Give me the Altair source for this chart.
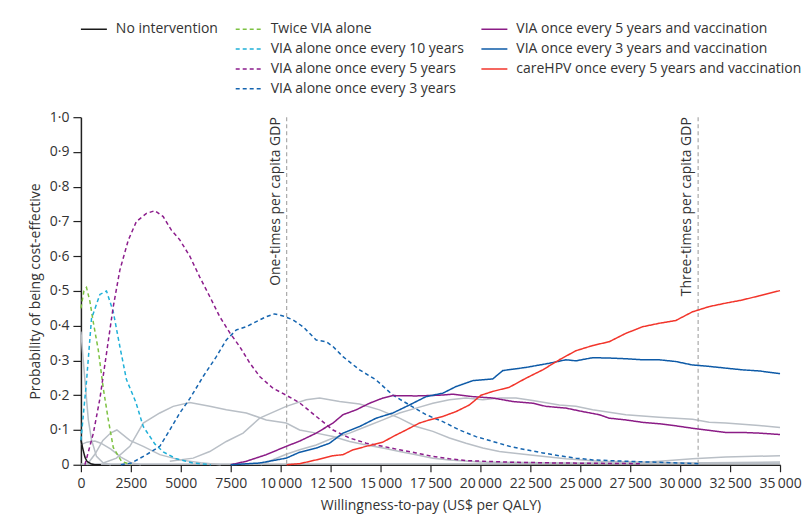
import altair as alt
import pandas as pd

# ---------------- data ----------------
no_int_x = [0, 100, 200, 300, 500, 700, 1000]
no_int_y = [0.072, 0.045, 0.022, 0.010, 0.003, 0.0, 0.0]

twice_x = [0, 150, 280, 450, 620, 870, 1120, 1370, 1620, 2030, 2500]
twice_y = [0.45, 0.50, 0.51, 0.47, 0.41, 0.33, 0.22, 0.13, 0.05, 0.01, 0.0]

v10_x = [0, 280, 530, 950, 1280, 1620, 1950, 2280, 2750, 3120, 3700, 4120, 4780, 5600, 6500]
v10_y = [0.07, 0.24, 0.42, 0.49, 0.50, 0.44, 0.34, 0.245, 0.18, 0.11, 0.06, 0.037, 0.017, 0.005, 0.0]

v5_x = [200, 620, 950, 1280, 1620, 1950, 2370, 2780, 3280, 3700, 4120, 4530, 4950, 5450,
        5950, 6450, 6950, 7450, 7950, 8450, 8950, 9620, 10280, 10950, 11780, 12620, 13450,
        14280, 15120, 15950, 16780, 17620, 18450, 19280, 20120, 21780, 24000, 28000]
v5_y = [0.0, 0.09, 0.19, 0.32, 0.455, 0.56, 0.646, 0.70, 0.723, 0.731, 0.714, 0.675, 0.647, 0.60,
        0.54, 0.484, 0.426, 0.38, 0.34, 0.293, 0.254, 0.22, 0.20, 0.178, 0.139, 0.10, 0.077,
        0.062, 0.053, 0.043, 0.034, 0.024, 0.017, 0.012, 0.01, 0.007, 0.005, 0.003]

v3_x = [2000, 2530, 3280, 3950, 4450, 4950, 5450, 6120, 6780, 7280, 7780, 8280, 8780, 9280,
        9700, 10120, 10620, 11120, 11780, 12280, 12620, 13120, 13950, 14780, 15620, 16450,
        17280, 18120, 18950, 19780, 20620, 21450, 22280, 23120, 23950, 24780, 25620, 27280,
        28950, 31000]
v3_y = [0.0, 0.005, 0.029, 0.053, 0.10, 0.149, 0.19, 0.254, 0.311, 0.359, 0.388, 0.397, 0.412,
        0.426, 0.434, 0.428, 0.417, 0.397, 0.359, 0.354, 0.34, 0.311, 0.273, 0.244, 0.20, 0.172,
        0.144, 0.124, 0.10, 0.081, 0.067, 0.053, 0.043, 0.034, 0.026, 0.019, 0.014, 0.01,
        0.007, 0.003]

vac5_x = [7500, 8280, 9280, 10280, 10950, 11780, 12620, 13120, 13780, 14450, 15120, 15620,
          16780, 17950, 18620, 19620, 20620, 21620, 22620, 23280, 24280, 25120, 25950, 26450,
          27280, 28120, 28950, 29780, 30620, 31450, 32280, 33120, 33950, 35000]
vac5_y = [0.0, 0.01, 0.029, 0.053, 0.068, 0.091, 0.12, 0.144, 0.158, 0.177, 0.192, 0.199,
          0.198, 0.20, 0.203, 0.196, 0.192, 0.182, 0.177, 0.168, 0.163, 0.153, 0.144, 0.134,
          0.129, 0.122, 0.118, 0.112, 0.105, 0.099, 0.093, 0.093, 0.091, 0.087]

vac3_x = [7500, 8950, 10280, 10950, 11780, 12450, 13120, 13950, 14780, 15620, 16450, 17280,
          18120, 18780, 19620, 20620, 21120, 22280, 23450, 24280, 24780, 25620, 26450, 27280,
          28120, 28950, 29780, 30620, 31450, 32280, 33120, 33950, 35000]
vac3_y = [0.0, 0.005, 0.019, 0.036, 0.048, 0.062, 0.091, 0.11, 0.134, 0.149, 0.172, 0.196,
          0.206, 0.225, 0.242, 0.247, 0.271, 0.28, 0.292, 0.302, 0.299, 0.308, 0.307, 0.305,
          0.302, 0.302, 0.297, 0.287, 0.283, 0.278, 0.273, 0.27, 0.262]

care_x = [10300, 10950, 11780, 12620, 13120, 13620, 14280, 15120, 15620, 16280, 16950, 17450,
          18120, 18780, 19450, 20030, 20620, 21450, 22280, 23120, 23950, 24780, 25620, 26450,
          27280, 28120, 28950, 29780, 30620, 31450, 32280, 33120, 33950, 35000]
care_y = [0.0, 0.003, 0.014, 0.026, 0.029, 0.043, 0.053, 0.065, 0.081, 0.10, 0.12, 0.129,
          0.139, 0.153, 0.172, 0.20, 0.211, 0.223, 0.249, 0.273, 0.302, 0.328, 0.343, 0.354,
          0.378, 0.397, 0.407, 0.415, 0.44, 0.455, 0.465, 0.474, 0.486, 0.501]

# other (unlabelled) strategies drawn in grey
g1_x = [0, 200, 370, 530, 780, 1120, 1500]
g1_y = [0.383, 0.244, 0.13, 0.072, 0.024, 0.005, 0.0]
g2_x = [0, 300, 700, 1000, 1500, 2000, 2500, 3000]
g2_y = [0.058, 0.065, 0.068, 0.062, 0.045, 0.022, 0.006, 0.0]
g3_x = [300, 700, 1100, 1500, 1800, 2450, 3120, 3950, 4950, 6000, 7000]
g3_y = [0.0, 0.03, 0.07, 0.092, 0.10, 0.07, 0.053, 0.029, 0.014, 0.006, 0.0]
g4_x = [1120, 1780, 2450, 3120, 3950, 4620, 5450, 6450, 7280, 8280, 9280, 10280, 10950, 11780,
        12620, 13450, 14280, 15120, 15950, 16780, 17620, 18450, 20000, 25000, 35000]
g4_y = [0.005, 0.019, 0.053, 0.12, 0.149, 0.168, 0.179, 0.168, 0.158, 0.149, 0.129, 0.12, 0.10,
        0.091, 0.081, 0.067, 0.057, 0.048, 0.038, 0.029, 0.019, 0.014, 0.008, 0.004, 0.003]
g5_x = [4450, 5620, 6450, 7280, 8120, 8950, 10280, 11280, 11950, 12950, 13950, 14950, 15950,
        16780, 17620, 18450, 19280, 20120, 20950, 22620, 24280, 25950, 30000, 35000]
g5_y = [0.01, 0.019, 0.038, 0.067, 0.091, 0.134, 0.168, 0.187, 0.192, 0.182, 0.175, 0.158,
        0.134, 0.11, 0.096, 0.077, 0.062, 0.048, 0.038, 0.027, 0.017, 0.01, 0.005, 0.004]
g6_x = [9000, 10280, 10950, 11780, 12620, 13450, 14280, 15120, 15950, 16780, 17620, 18450,
        19280, 20120, 20950, 21780, 22620, 23950, 24780, 25620, 27280, 28950, 30620, 31450,
        32280, 33950, 35000]
g6_y = [0.0, 0.03, 0.043, 0.057, 0.077, 0.091, 0.11, 0.129, 0.149, 0.163, 0.177, 0.187, 0.192,
        0.187, 0.192, 0.192, 0.185, 0.172, 0.168, 0.158, 0.144, 0.137, 0.131, 0.122, 0.12,
        0.113, 0.107]
g7_x = [27000, 28950, 30620, 32280, 35000]
g7_y = [0.003, 0.01, 0.017, 0.022, 0.026]
g8_x = [0, 10000, 20000, 30000, 35000]
g8_y = [0.002, 0.002, 0.003, 0.005, 0.008]

gdp_values = [10300, 30900]
gdp_labels = ["One-times per capita GDP", "Three-times per capita GDP"]

y_ticks = [0.0, 0.1, 0.2, 0.3, 0.4, 0.5, 0.6, 0.7, 0.8, 0.9, 1.0]
x_ticks = [0, 2500, 5000, 7500, 10000, 12500, 15000, 17500, 20000, 22500, 25000,
           27500, 30000, 32500, 35000]

series_names = [
    "No intervention",
    "Twice VIA alone",
    "VIA alone once every 10 years",
    "VIA alone once every 5 years",
    "VIA alone once every 3 years",
    "VIA once every 5 years and vaccination",
    "VIA once every 3 years and vaccination",
    "careHPV once every 5 years and vaccination",
]
series_colors = ["#1a1a1a", "#7dc242", "#1fb0d8", "#8c1d8c", "#1565b0",
                 "#8b1c86", "#0d5aa7", "#f2352b"]
series_dashed = [False, True, True, True, True, False, False, False]

# ---------------- tables ----------------
series_xy = [(no_int_x, no_int_y), (twice_x, twice_y), (v10_x, v10_y), (v5_x, v5_y),
             (v3_x, v3_y), (vac5_x, vac5_y), (vac3_x, vac3_y), (care_x, care_y)]
rows = []
for name, (xs, ys) in zip(series_names, series_xy):
    for x, y in zip(xs, ys):
        rows.append({"series": name, "wtp": x, "prob": y})
df = pd.DataFrame(rows)

grey_xy = [(g1_x, g1_y), (g2_x, g2_y), (g3_x, g3_y), (g4_x, g4_y), (g5_x, g5_y),
           (g6_x, g6_y), (g7_x, g7_y), (g8_x, g8_y)]
grows = []
for i, (xs, ys) in enumerate(grey_xy):
    for x, y in zip(xs, ys):
        grows.append({"curve": f"g{i+1}", "wtp": x, "prob": y})
gdf = pd.DataFrame(grows)

gdp_df = pd.DataFrame({"wtp": gdp_values, "label": gdp_labels})

# legend: 3 columns filled column by column (4 rows); blanks fill empty cells
B1, B2, B3, B4 = "\u200b", "\u200b\u200b", "\u200b\u200b\u200b", "\u200b\u200b\u200b\u200b"
legend_order = [series_names[0], B1, B2, B3,
                series_names[1], series_names[2], series_names[3], series_names[4],
                series_names[5], series_names[6], series_names[7], B4]
col_of = dict(zip(series_names, series_colors))
dash_of = dict(zip(series_names, series_dashed))
legend_colors = [col_of.get(n, "rgba(0,0,0,0)") for n in legend_order]
legend_dashes = [[4, 3] if dash_of.get(n, False) else [1, 0] for n in legend_order]

FONT = "Open Sans"
TXT = "#333333"

legend = alt.Legend(
    title=None, orient="none", legendX=-1, legendY=-98, columns=3,
    symbolType="stroke", symbolSize=676, symbolStrokeWidth=1.5,
    labelFontSize=14, labelColor=TXT, labelFont=FONT, labelOffset=8,
    columnPadding=16, rowPadding=0, clipHeight=19.3, labelLimit=400,
)

x_scale = alt.Scale(domain=[0, 35000], nice=False)
y_scale = alt.Scale(domain=[0, 1], nice=False)

x_enc = alt.X("wtp:Q", scale=x_scale,
              axis=alt.Axis(values=x_ticks,
                            labelExpr="datum.value >= 10000 ? floor(datum.value/1000) + '\u2009' + format(datum.value % 1000, '03') : '' + datum.value",
                            title="Willingness-to-pay (US$ per QALY)",
                            tickSize=7, labelPadding=5, titlePadding=8,
                            labelFlush=False, labelOverlap=False))
y_enc = alt.Y("prob:Q", scale=y_scale,
              axis=alt.Axis(values=y_ticks, tickCount=11,
                            labelExpr="datum.value == 0 ? '0' : replace(format(datum.value, '.1f'), '.', '·')",
                            title="Probability of being cost-effective",
                            tickSize=8, labelPadding=4, titlePadding=7,
                            labelOverlap=False, labelFlush=False))

rules = alt.Chart(gdp_df).mark_rule(color="#aaaaaa", strokeDash=[4, 3], strokeWidth=1.2).encode(
    x=alt.X("wtp:Q", scale=x_scale))

texts = alt.Chart(gdp_df).mark_text(angle=270, align="right", baseline="bottom", dy=-4,
                                     fontSize=14, font=FONT, color=TXT).encode(
    x=alt.X("wtp:Q", scale=x_scale),
    y=alt.value(0), text="label:N")

greys = alt.Chart(gdf).mark_line(color="#b9bfc6", strokeWidth=1.5).encode(
    x=x_enc, y=y_enc, detail="curve:N")

lines = alt.Chart(df).mark_line(strokeWidth=1.5).encode(
    x=x_enc, y=y_enc,
    color=alt.Color("series:N", scale=alt.Scale(domain=legend_order, range=legend_colors), legend=legend),
    strokeDash=alt.StrokeDash("series:N", scale=alt.Scale(domain=legend_order, range=legend_dashes), legend=legend),
)

chart = alt.layer(greys, rules, texts, lines).properties(
    width=700, height=348,
    padding={"left": 73, "top": 109, "right": 24, "bottom": 55},
    autosize=alt.AutoSizeParams(type="none"),
).configure(font=FONT).configure_view(stroke=None).configure_axis(
    grid=False, domainColor="#222222", tickColor="#222222", domainWidth=1.5, tickWidth=1.2,
    labelFontSize=14, titleFontSize=14, labelColor=TXT, titleColor=TXT,
    labelFont=FONT, titleFont=FONT, titleFontWeight="normal",
).configure_axisY(labelOverlap=False)

chart.save("out.html", embed_options={"renderer": "svg", "actions": False})
